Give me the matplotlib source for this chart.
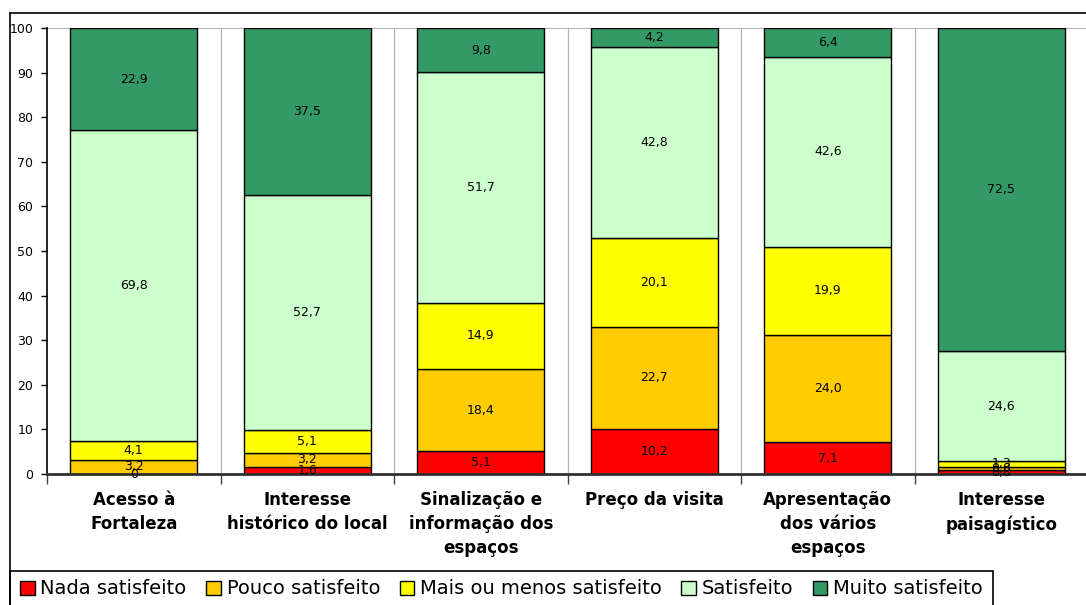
import matplotlib
matplotlib.use("Agg")
import matplotlib.pyplot as plt
from matplotlib.patches import Patch, Rectangle
from matplotlib.lines import Line2D
import numpy as np

plt.rcParams['font.family'] = ['DejaVu Sans']

categories = [
    "Acesso à\nFortaleza",
    "Interesse\nhistórico do local",
    "Sinalização e\ninformação dos\nespaços",
    "Preço da visita",
    "Apresentação\ndos vários\nespaços",
    "Interesse\npaisagístico",
]
series_names = ["Nada satisfeito", "Pouco satisfeito", "Mais ou menos satisfeito",
                "Satisfeito", "Muito satisfeito"]
nada = [0.0, 1.6, 5.1, 10.2, 7.1, 0.8]
pouco = [3.2, 3.2, 18.4, 22.7, 24.0, 0.8]
mais_ou_menos = [4.1, 5.1, 14.9, 20.1, 19.9, 1.3]
satisfeito = [69.8, 52.7, 51.7, 42.8, 42.6, 24.6]
muito = [22.9, 37.5, 9.8, 4.2, 6.4, 72.5]
y_ticks = [0, 10, 20, 30, 40, 50, 60, 70, 80, 90, 100]

series = [nada, pouco, mais_ou_menos, satisfeito, muito]
colors = ["#FF0000", "#FFCC00", "#FFFF00", "#CCFFCC", "#339966"]

W, H = 1086, 605
fig = plt.figure(figsize=(W / 100, H / 100), dpi=100)
ax = fig.add_axes([47 / W, 1 - 474 / H, (1088 - 47) / W, (474 - 28) / H])

x = np.arange(len(categories))
bottom = np.zeros(len(categories))
for vals, col in zip(series, colors):
    vals = np.array(vals)
    ax.bar(x, vals, bottom=bottom, width=0.73, color=col, edgecolor="black",
           linewidth=1.0, zorder=3)
    for xi, b, v in zip(x, bottom, vals):
        txt = "0" if v == 0 else f"{v:.1f}".replace(".", ",")
        ax.text(xi, b + v / 2, txt, ha="center", va="center", fontsize=9,
                color="black", zorder=5)
    bottom += vals

ax.set_xlim(-0.5, len(categories) - 0.5)
ax.set_ylim(0, 100)

# separators between categories
bounds = np.arange(len(categories) + 1) - 0.5
for bnd in bounds[1:-1]:
    ax.axvline(bnd, color="#B4B4B4", lw=0.9, zorder=1)
ax.axhline(100, color="#A6A6A6", lw=1.2, zorder=1)

ax.set_xticks(bounds)
ax.set_xticklabels([])
ax.tick_params(axis="x", which="major", direction="out", length=7, width=1,
               color="#404040")
ax.set_xticks(x, minor=True)
ax.set_xticklabels(categories, minor=True, fontsize=12, fontweight="bold",
                   linespacing=1.45, va="top")
ax.tick_params(axis="x", which="minor", length=0, pad=12)

ax.set_yticks(y_ticks)
ax.set_yticklabels([str(t) for t in y_ticks], fontsize=9)
ax.tick_params(axis="y", direction="out", length=4, width=1, pad=6)

for s in ["top", "right"]:
    ax.spines[s].set_visible(False)
ax.spines["left"].set_linewidth(1.2)
ax.spines["bottom"].set_linewidth(2.0)
ax.spines["bottom"].set_color("#303030")
ax.spines["left"].set_zorder(4)
ax.spines["bottom"].set_zorder(4)

# outer chart frame
fig.add_artist(Line2D([10 / W, 10 / W], [0, 1 - 13 / H], color="black", lw=1.2))
fig.add_artist(Line2D([10 / W, 1.0], [1 - 13 / H, 1 - 13 / H], color="black", lw=1.2))

# legend box
fig.add_artist(Rectangle((10 / W, -0.05), (993 - 10) / W, 0.05 + (605 - 571) / H,
                         transform=fig.transFigure, facecolor="white",
                         edgecolor="black", lw=1.2))
handles = [Patch(facecolor=c, edgecolor="black", lw=1.0) for c in colors]
fig.legend(handles, series_names, loc="center", ncol=5,
           bbox_to_anchor=((10 + 993) / 2 / W, 1 - 589 / H), frameon=False,
           fontsize=14, handlelength=0.75, handleheight=0.75,
           handletextpad=0.3, columnspacing=1.0, borderaxespad=0)

fig.savefig("out.png", dpi=100, facecolor="white")
